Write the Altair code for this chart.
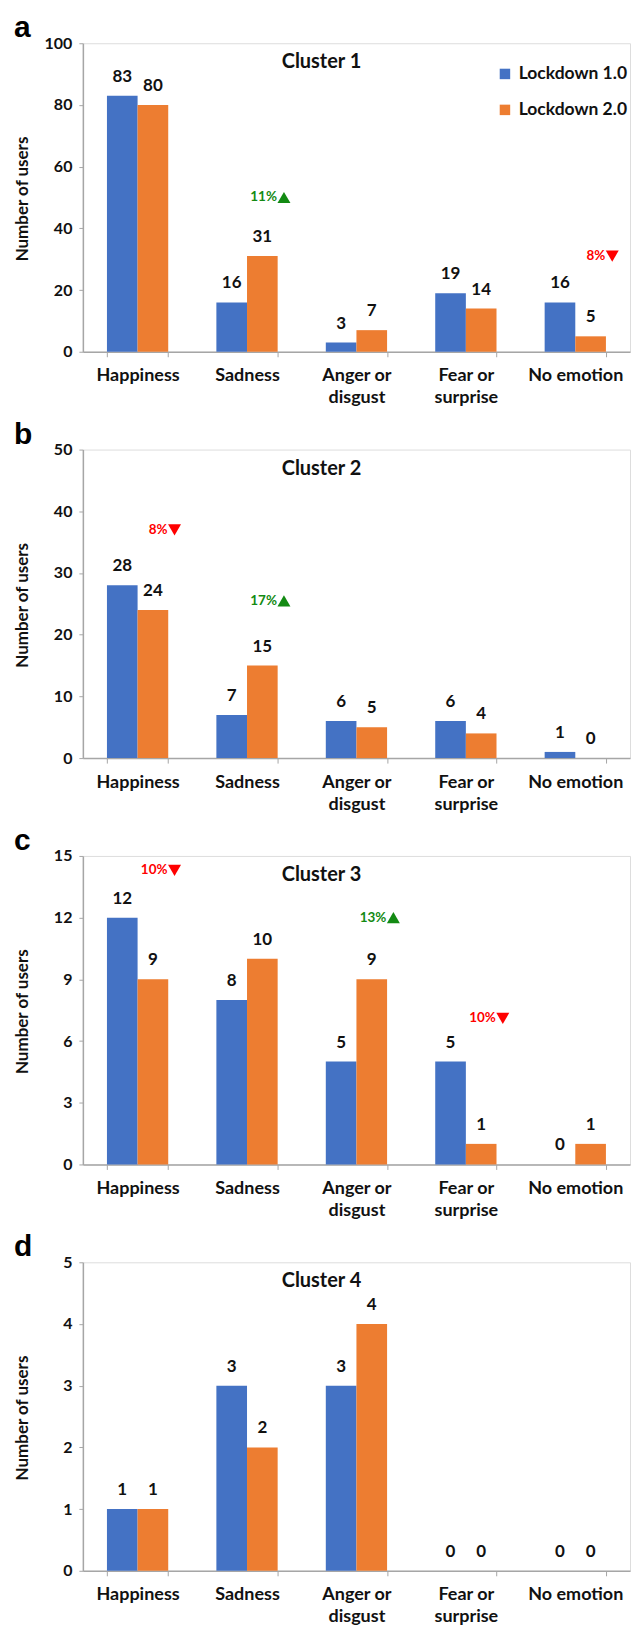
import altair as alt
import pandas as pd

categories = ["Happiness", "Sadness", "Anger or disgust", "Fear or surprise", "No emotion"]
series = ["Lockdown 1.0", "Lockdown 2.0"]

cluster1_l1 = [83, 16, 3, 19, 16]
cluster1_l2 = [80, 31, 7, 14, 5]
cluster2_l1 = [28, 7, 6, 6, 1]
cluster2_l2 = [24, 15, 5, 4, 0]
cluster3_l1 = [12, 8, 5, 5, 0]
cluster3_l2 = [9, 10, 9, 1, 1]
cluster4_l1 = [1, 3, 3, 0, 0]
cluster4_l2 = [1, 2, 4, 0, 0]

panel_letters = ["a", "b", "c", "d"]
cluster_titles = ["Cluster 1", "Cluster 2", "Cluster 3", "Cluster 4"]
y_max = [100, 50, 15, 5]
y_step = [20, 10, 3, 1]

ann_panel = [0, 0, 1, 1, 2, 2, 2]
ann_cat = ["Sadness", "No emotion", "Happiness", "Sadness", "Happiness", "Anger or disgust", "Fear or surprise"]
ann_y = [50, 31, 37, 25.5, 14.3, 12.0, 7.1]
ann_text = ["11%", "8%", "8%", "17%", "10%", "13%", "10%"]
ann_dir = ["up", "down", "down", "up", "down", "up", "down"]

values_l1 = [cluster1_l1, cluster2_l1, cluster3_l1, cluster4_l1]
values_l2 = [cluster1_l2, cluster2_l2, cluster3_l2, cluster4_l2]

FONT = "Lato"
BLUE = "#4472C4"
ORANGE = "#ED7D31"
GREEN = "#138a13"
RED = "#ff0000"
W = 548
H = 309

label_expr = ("datum.label == 'Anger or disgust' ? ['Anger or', 'disgust'] : "
              "datum.label == 'Fear or surprise' ? ['Fear or', 'surprise'] : datum.label")


def panel(i):
    rows = []
    for c, v1, v2 in zip(categories, values_l1[i], values_l2[i]):
        rows.append({"category": c, "series": series[0], "value": v1})
        rows.append({"category": c, "series": series[1], "value": v2})
    df = pd.DataFrame(rows)

    x = alt.X("category:N", sort=categories,
              scale=alt.Scale(domain=categories, paddingInner=0.44, paddingOuter=0.22),
              axis=alt.Axis(title=None, labelAngle=0, labelExpr=label_expr,
                            labelFont=FONT, labelFontSize=18, labelFontWeight="bold",
                            labelColor="#111", labelLineHeight=22, labelPadding=10,
                            tickBand="extent", tickSize=5, tickColor="#a6a6a6",
                            domainColor="#a6a6a6", domainWidth=1.5, labelBaseline="top"))
    y = alt.Y("value:Q",
              scale=alt.Scale(domain=[0, y_max[i]], nice=False),
              axis=alt.Axis(values=list(range(0, y_max[i] + 1, y_step[i])),
                            title="Number of users", titleFont=FONT, titleFontSize=17,
                            titleFontWeight="bold", titleColor="#111",
                            titleX=-51, titleY=H / 2 + 1,
                            labelFont=FONT, labelFontSize=16, labelFontWeight="bold",
                            labelColor="#111", labelPadding=7, tickSize=4,
                            tickColor="#a6a6a6", domainColor="#a6a6a6", domainWidth=1.5,
                            grid=False))
    xo = alt.XOffset("series:N", sort=series,
                     scale=alt.Scale(domain=series, paddingInner=0, paddingOuter=0))

    legend = None
    if i == 0:
        legend = alt.Legend(title=None, orient="none", legendX=W - 134, legendY=22,
                            symbolType="square", symbolSize=110, symbolStrokeWidth=0,
                            labelFont=FONT, labelFontSize=17.5, labelFontWeight="bold",
                            labelColor="#111", labelOffset=5, rowPadding=17, padding=0)

    base = alt.Chart(df)
    bars = base.mark_bar().encode(
        x=x, xOffset=xo, y=y,
        color=alt.Color("series:N", scale=alt.Scale(domain=series, range=[BLUE, ORANGE]),
                        legend=legend),
    )
    labels = base.mark_text(baseline="bottom", dy=-10, font=FONT, fontSize=17,
                            fontWeight="bold", color="#111").encode(
        x=x, xOffset=xo, y=y, text="value:Q")

    layers = [bars, labels]

    adf = pd.DataFrame({"category": [c for p, c in zip(ann_panel, ann_cat) if p == i],
                        "value": [v for p, v in zip(ann_panel, ann_y) if p == i],
                        "text": [t for p, t in zip(ann_panel, ann_text) if p == i],
                        "dir": [d for p, d in zip(ann_panel, ann_dir) if p == i]})
    if len(adf):
        abase = alt.Chart(adf)
        col = alt.condition(alt.datum.dir == "up", alt.value(GREEN), alt.value(RED))
        atext = abase.mark_text(align="right", baseline="middle", dx=30, font=FONT,
                                fontSize=13.5, fontWeight="bold").encode(
            x=x, y=y, text="text:N", color=col)
        atri = abase.mark_point(filled=True, size=169, opacity=1, xOffset=37).encode(
            x=x, y=y, color=col,
            shape=alt.condition(alt.datum.dir == "up", alt.value("triangle-up"),
                                alt.value("triangle-down")))
        layers += [atext, atri]

    title_layer = alt.Chart(pd.DataFrame({"t": [cluster_titles[i]]})).mark_text(
        font=FONT, fontSize=20, fontWeight="bold", color="#111", baseline="middle"
    ).encode(x=alt.value(239), y=alt.value(19), text="t:N")
    letter_layer = alt.Chart(pd.DataFrame({"t": [panel_letters[i]]})).mark_text(
        font="Liberation Sans", fontSize=30, fontWeight="bold", color="#000",
        align="left", baseline="alphabetic"
    ).encode(x=alt.value(-69), y=alt.value(-6), text="t:N")
    layers += [title_layer, letter_layer]

    return alt.layer(*layers).properties(width=W, height=H)


chart = alt.vconcat(*[panel(i) for i in range(4)], spacing=11).resolve_scale(
    color="independent").resolve_legend(color="independent").properties(
    padding={"left": 5, "top": 3, "right": 0, "bottom": 0}).configure_view(
    stroke=None).configure(background="white")

chart.save("out.html", embed_options={"renderer": "svg", "actions": False})
